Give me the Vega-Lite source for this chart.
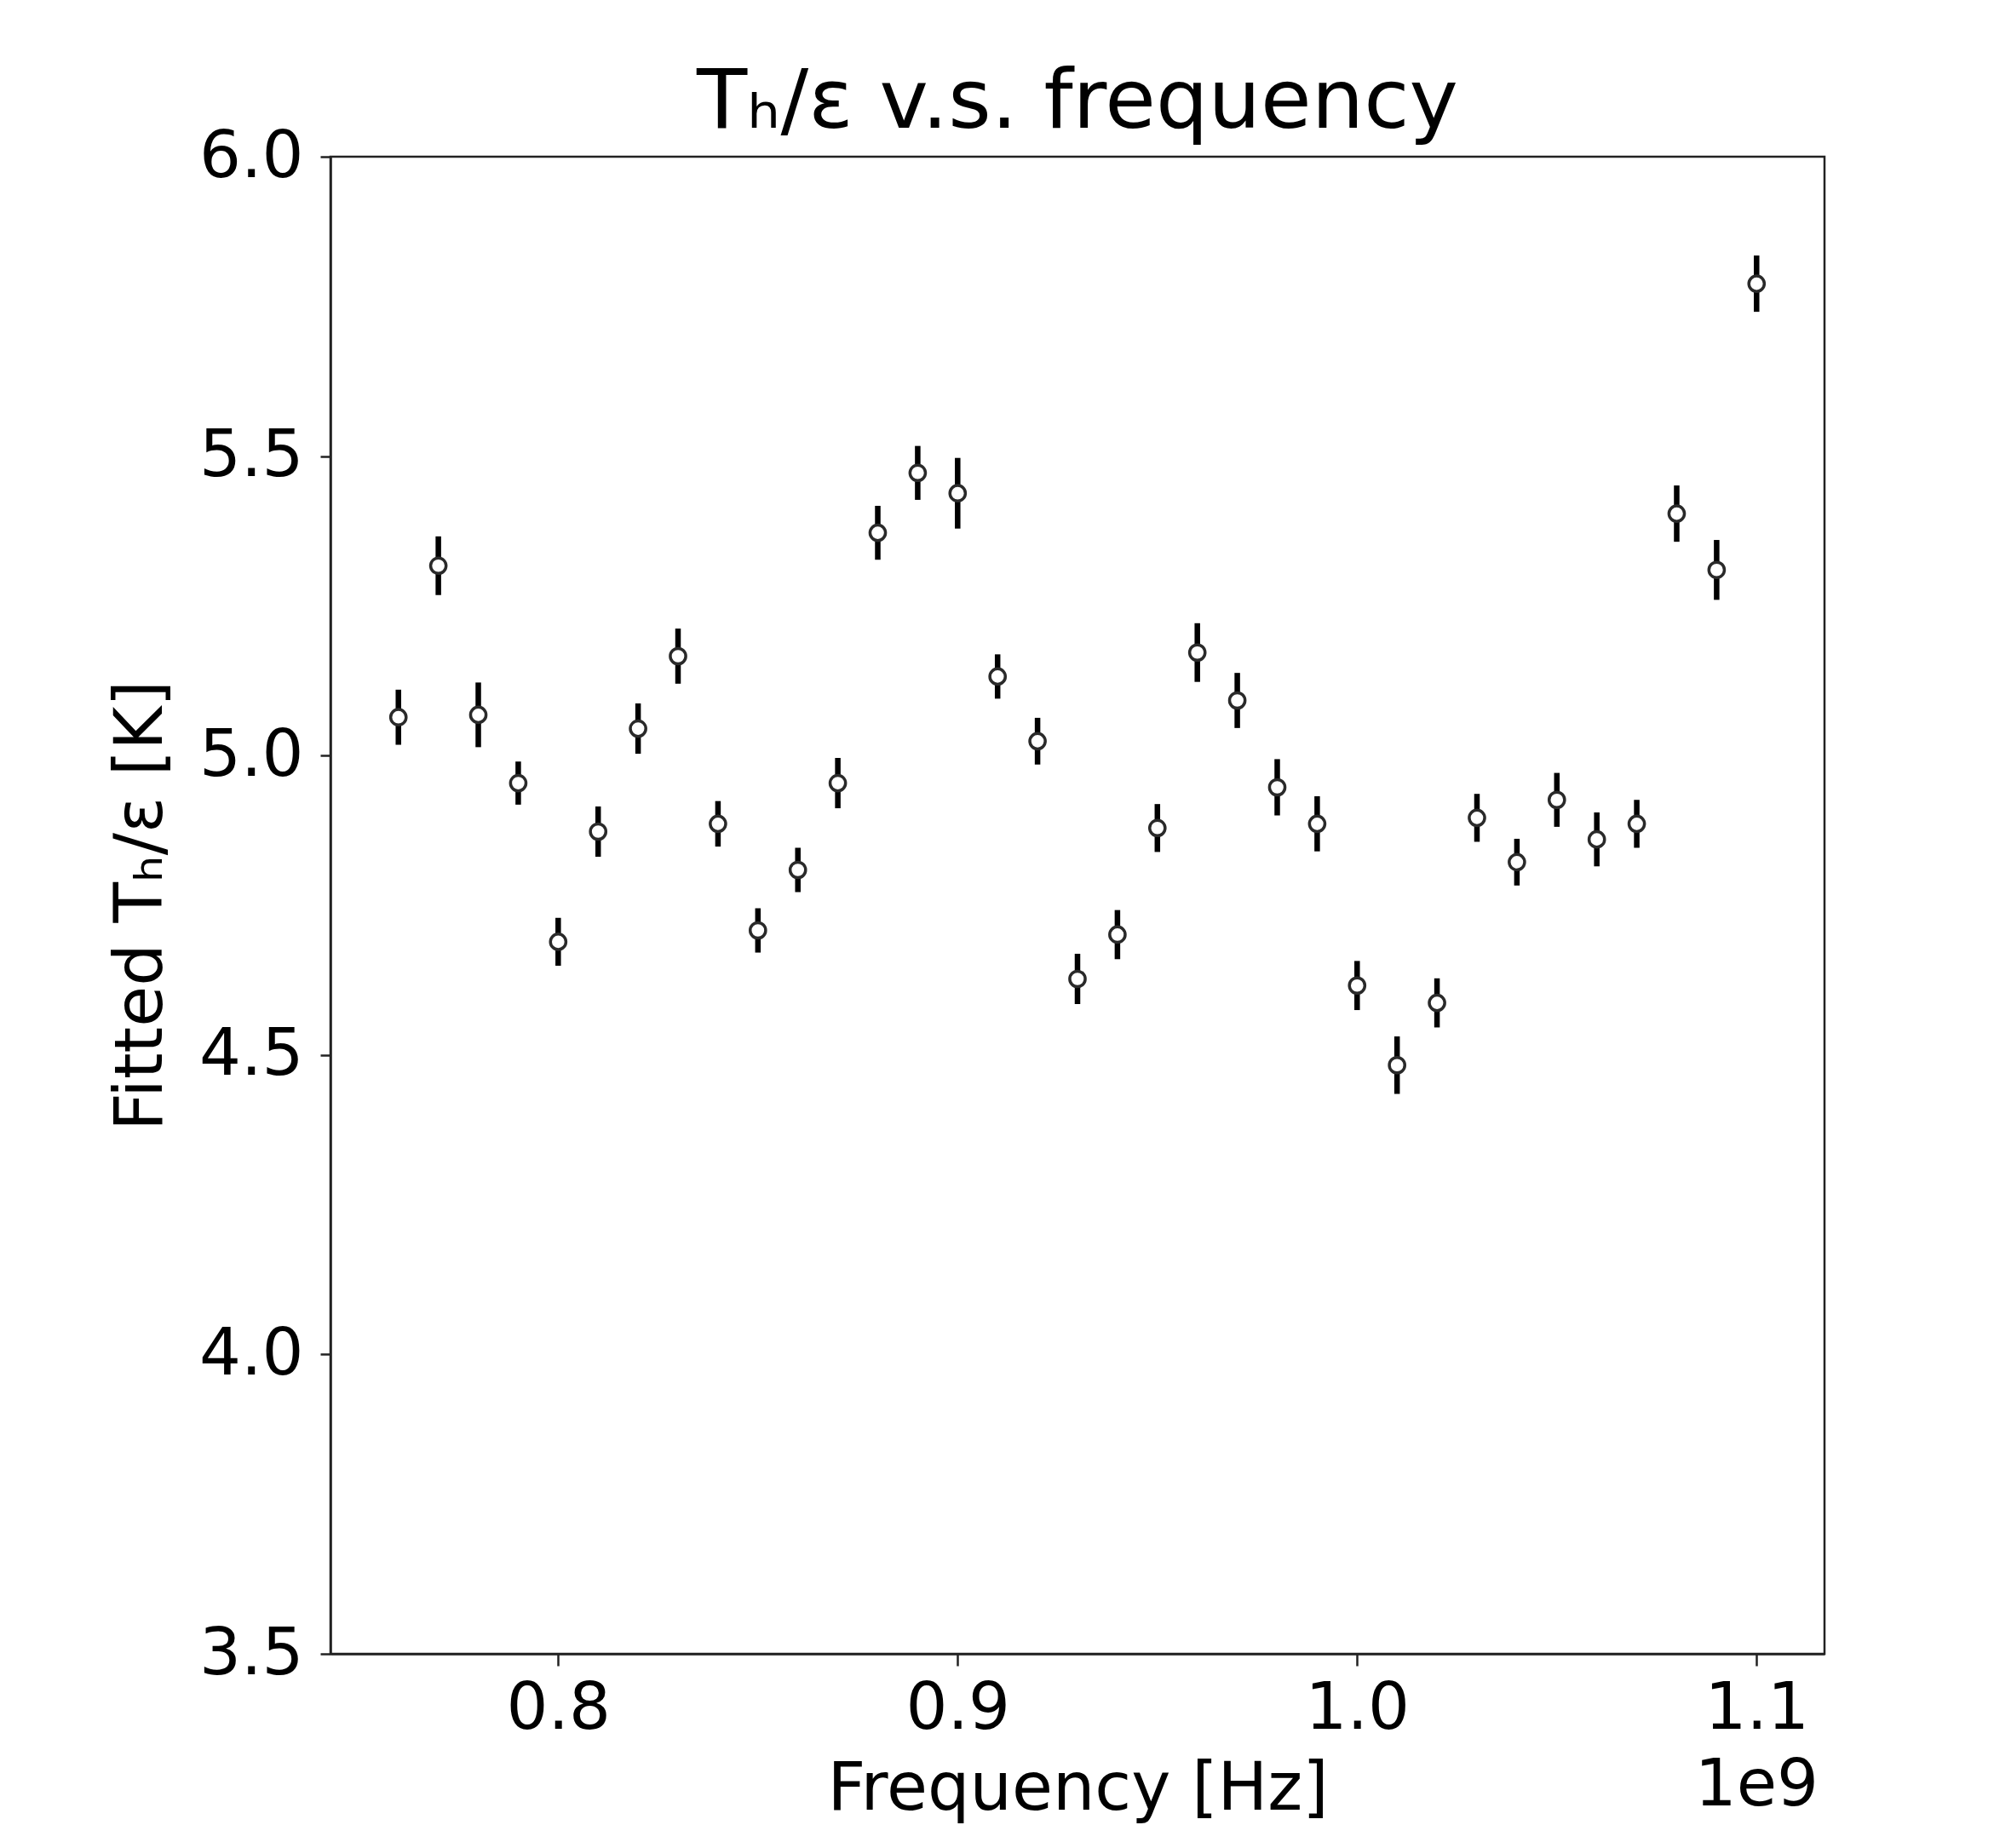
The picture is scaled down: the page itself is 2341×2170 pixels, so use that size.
{
  "$schema": "https://vega.github.io/schema/vega-lite/v6.json",
  "width": 1754,
  "height": 1758,
  "autosize": {"type": "none"},
  "padding": {"left": 388, "top": 184, "right": 199, "bottom": 228},
  "background": "white",
  "title": {"text": "Tₕ/ε v.s. frequency", "font": "DejaVu Sans", "fontSize": 97, "fontWeight": "normal", "color": "#000000", "offset": -25, "anchor": "middle"},
  "config": {
    "view": {"stroke": "#222222", "strokeWidth": 2.5},
    "axis": {
      "grid": false,
      "domainColor": "#222222", "domainWidth": 2.5,
      "tickColor": "#222222", "tickWidth": 2.5,
      "labelFont": "DejaVu Sans", "labelFontSize": 77, "labelColor": "#000000",
      "titleFont": "DejaVu Sans", "titleFontSize": 78, "titleFontWeight": "normal", "titleColor": "#000000"
    }
  },
  "datasets": {
    "pts": [
      {"freq": 760000000, "T": 5.064, "lo": 5.018, "hi": 5.110},
      {"freq": 770000000, "T": 5.317, "lo": 5.268, "hi": 5.366},
      {"freq": 780000000, "T": 5.068, "lo": 5.014, "hi": 5.122},
      {"freq": 790000000, "T": 4.954, "lo": 4.918, "hi": 4.990},
      {"freq": 800000000, "T": 4.689, "lo": 4.649, "hi": 4.729},
      {"freq": 810000000, "T": 4.873, "lo": 4.831, "hi": 4.915},
      {"freq": 820000000, "T": 5.045, "lo": 5.003, "hi": 5.087},
      {"freq": 830000000, "T": 5.166, "lo": 5.120, "hi": 5.212},
      {"freq": 840000000, "T": 4.886, "lo": 4.848, "hi": 4.924},
      {"freq": 850000000, "T": 4.708, "lo": 4.671, "hi": 4.745},
      {"freq": 860000000, "T": 4.809, "lo": 4.772, "hi": 4.846},
      {"freq": 870000000, "T": 4.954, "lo": 4.912, "hi": 4.996},
      {"freq": 880000000, "T": 5.372, "lo": 5.327, "hi": 5.417},
      {"freq": 890000000, "T": 5.472, "lo": 5.427, "hi": 5.517},
      {"freq": 900000000, "T": 5.438, "lo": 5.379, "hi": 5.497},
      {"freq": 910000000, "T": 5.132, "lo": 5.095, "hi": 5.169},
      {"freq": 920000000, "T": 5.024, "lo": 4.985, "hi": 5.063},
      {"freq": 930000000, "T": 4.627, "lo": 4.585, "hi": 4.669},
      {"freq": 940000000, "T": 4.701, "lo": 4.660, "hi": 4.742},
      {"freq": 950000000, "T": 4.879, "lo": 4.839, "hi": 4.919},
      {"freq": 960000000, "T": 5.172, "lo": 5.123, "hi": 5.221},
      {"freq": 970000000, "T": 5.092, "lo": 5.046, "hi": 5.138},
      {"freq": 980000000, "T": 4.947, "lo": 4.900, "hi": 4.994},
      {"freq": 990000000, "T": 4.886, "lo": 4.840, "hi": 4.932},
      {"freq": 1000000000, "T": 4.616, "lo": 4.575, "hi": 4.657},
      {"freq": 1010000000, "T": 4.483, "lo": 4.435, "hi": 4.531},
      {"freq": 1020000000, "T": 4.587, "lo": 4.546, "hi": 4.628},
      {"freq": 1030000000, "T": 4.896, "lo": 4.856, "hi": 4.936},
      {"freq": 1040000000, "T": 4.822, "lo": 4.783, "hi": 4.861},
      {"freq": 1050000000, "T": 4.926, "lo": 4.881, "hi": 4.971},
      {"freq": 1060000000, "T": 4.860, "lo": 4.815, "hi": 4.905},
      {"freq": 1070000000, "T": 4.886, "lo": 4.846, "hi": 4.926},
      {"freq": 1080000000, "T": 5.404, "lo": 5.357, "hi": 5.451},
      {"freq": 1090000000, "T": 5.310, "lo": 5.260, "hi": 5.360},
      {"freq": 1100000000, "T": 5.788, "lo": 5.741, "hi": 5.835}
    ],
    "offsetLabel": [{"label": "1e9"}]
  },
  "layer": [
    {
      "data": {"name": "pts"},
      "mark": {"type": "rule", "color": "#000000", "strokeWidth": 6.5},
      "encoding": {
        "x": {
          "field": "freq", "type": "quantitative",
          "scale": {"domain": [743000000, 1117000000], "nice": false, "zero": false},
          "axis": {
            "values": [800000000, 900000000, 1000000000, 1100000000],
            "labelExpr": "format(datum.value / 1e9, '.1f')",
            "tickSize": 14, "labelPadding": 12,
            "title": "Frequency [Hz]", "titlePadding": 18
          }
        },
        "y": {
          "field": "lo", "type": "quantitative",
          "scale": {"domain": [3.5, 6.0], "nice": false, "zero": false},
          "axis": {
            "values": [3.5, 4.0, 4.5, 5.0, 5.5, 6.0],
            "format": ".1f",
            "tickSize": 12, "labelPadding": 20,
            "title": "Fitted Tₕ/ε [K]", "titlePadding": 28
          }
        },
        "y2": {"field": "hi"}
      }
    },
    {
      "data": {"name": "pts"},
      "mark": {"type": "point", "shape": "circle", "filled": false, "fill": "#ffffff", "fillOpacity": 1, "stroke": "#2a2a2a", "strokeWidth": 3.5, "size": 330, "opacity": 1},
      "encoding": {
        "x": {"field": "freq", "type": "quantitative"},
        "y": {"field": "T", "type": "quantitative"}
      }
    },
    {
      "data": {"name": "offsetLabel"},
      "mark": {"type": "text", "align": "right", "baseline": "alphabetic", "font": "DejaVu Sans", "fontSize": 77, "color": "#000000", "dx": -7, "dy": 178},
      "encoding": {
        "x": {"datum": 1117000000, "type": "quantitative"},
        "y": {"datum": 3.5, "type": "quantitative"},
        "text": {"field": "label"}
      }
    }
  ]
}
